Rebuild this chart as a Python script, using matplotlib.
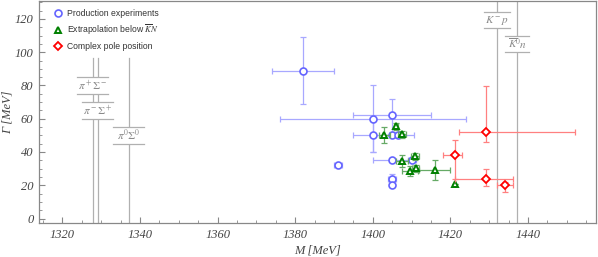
import matplotlib
matplotlib.use("Agg")
import matplotlib.pyplot as plt
from matplotlib.patches import Rectangle
from matplotlib.ticker import MultipleLocator
import numpy as np

plt.rcParams['mathtext.fontset'] = 'stix'

# ---------------- data ----------------
# Production experiments (blue circles)
prod_M = [1382, 1400, 1405, 1400, 1405, 1406.5, 1405, 1410, 1391, 1405, 1405]
prod_G = [89, 60, 62, 50, 50, 50, 35, 35, 32, 24, 20]
prod_xerr = [8, 24, 10, 5, 0, 4, 5, 1, 1, 1, 0]
prod_yerr = [20, 20, 10, 10, 0, 0, 0, 1, 1, 3, 0]

# Extrapolation below KbarN (green triangles)
extr_M = [1403, 1406, 1407.5, 1407.5, 1410.8, 1409.6, 1411.0, 1416.0, 1421.1]
extr_G = [50.2, 55.4, 50.6, 34.6, 37.3, 28.6, 30.2, 29.2, 20.5]
extr_xerr = [1.5, 0.5, 1, 1.5, 1, 2, 1, 4, 0]
extr_yerr = [5, 2, 2, 3.5, 2, 3, 2, 6, 0]

# Complex pole position (red diamonds), asymmetric errors
pole_M = [1429.1, 1421.1, 1429.1, 1434.0]
pole_G = [51.8, 38.0, 23.8, 20.0]
pole_xerr_lo = [7, 3, 8, 2]
pole_xerr_hi = [23, 2, 7, 2]
pole_yerr_lo = [6, 14, 4, 4]
pole_yerr_hi = [28, 9.5, 6, 2]

# thresholds
thr_M = [1327.8, 1329.1, 1337.1, 1432.0, 1437.2]
thr_top = [96.3, 96.3, 96.3, 131, 131]
thr_labels = [r'$\pi^+\Sigma^-$', r'$\pi^-\Sigma^+$', r'$\pi^0\Sigma^0$', r'$K^-p$', r'$\overline{K}^0n$']
thr_label_G = [(75, 85), (60, 70), (45, 55), (114.5, 124), (100.3, 109.8)]
thr_label_halfw = [4.0, 4.0, 4.0, 3.3, 3.1]

legend_labels = ['Production experiments', r'Extrapolation below $\overline{K}N$', 'Complex pole position']

# ---------------- figure ----------------
fig = plt.figure(figsize=(5.98, 2.57), dpi=100)
ax = fig.add_axes([39/598, 34/257, 557/598, 222/257])
ax.set_xlim(1314, 1457.5)
ax.set_ylim(-2.7, 130.8)

grey_line = '#b0b0b0'
label_grey = '#8a8a8a'

for m, top in zip(thr_M, thr_top):
    ax.plot([m, m], [-5, top], color=grey_line, lw=0.9, zorder=1)

for m, lab, (g0, g1), hw in zip(thr_M, thr_labels, thr_label_G, thr_label_halfw):
    ax.add_patch(Rectangle((m - hw, g0), 2*hw, g1 - g0, facecolor='white',
                           edgecolor='none', zorder=2))
    ax.plot([m - hw, m + hw], [g0, g0], color=grey_line, lw=0.9, zorder=3)
    ax.plot([m - hw, m + hw], [g1, g1], color=grey_line, lw=0.9, zorder=3)
    ax.text(m, (g0 + g1) / 2, lab, ha='center', va='center', color=label_grey,
            fontsize=8, zorder=4)

blue = '#6464ff'
green = '#008000'
red = '#ff0000'

ax.errorbar(prod_M, prod_G, xerr=prod_xerr, yerr=prod_yerr, fmt='none',
            ecolor='#a8a8ff', elinewidth=0.9, capsize=2.5, capthick=0.9, zorder=5)
h1, = ax.plot(prod_M, prod_G, 'o', ms=5, mfc='white', mec=blue, mew=1.2,
              ls='none', zorder=6)

ax.errorbar(extr_M, extr_G, xerr=extr_xerr, yerr=extr_yerr, fmt='none',
            ecolor='#66aa66', elinewidth=0.9, capsize=2.5, capthick=0.9, zorder=7)
h2, = ax.plot(extr_M, extr_G, '^', ms=5, mfc='white', mec=green, mew=1.4,
              ls='none', zorder=8)

ax.errorbar(pole_M, pole_G, xerr=[pole_xerr_lo, pole_xerr_hi],
            yerr=[pole_yerr_lo, pole_yerr_hi], fmt='none',
            ecolor='#ff8080', elinewidth=0.9, capsize=2.5, capthick=0.9, zorder=9)
h3, = ax.plot(pole_M, pole_G, 'D', ms=4.5, mfc='white', mec=red, mew=1.3,
              ls='none', zorder=10)

leg = ax.legend([h1, h2, h3], legend_labels, loc='upper left',
                bbox_to_anchor=(0.018, 0.99), frameon=False,
                prop={'family': 'Liberation Sans', 'size': 6.2},
                handlelength=0.8, handletextpad=0.6, labelspacing=0.55,
                borderaxespad=0.3, borderpad=0.4, labelcolor='#333333')

# axes styling
frame_col = '#888888'
for s in ax.spines.values():
    s.set_color(frame_col)
    s.set_linewidth(0.9)

ax.xaxis.set_major_locator(MultipleLocator(20))
ax.xaxis.set_minor_locator(MultipleLocator(5))
ax.yaxis.set_major_locator(MultipleLocator(20))
ax.yaxis.set_minor_locator(MultipleLocator(5))
ax.tick_params(which='both', direction='in', color=frame_col, top=False, right=False)
ax.tick_params(which='major', length=4, width=0.8, pad=4)
ax.tick_params(which='minor', length=2.5, width=0.6)
tick_font = {'family': 'Liberation Serif', 'style': 'italic', 'size': 9}
for lab in ax.get_xticklabels() + ax.get_yticklabels():
    lab.set_fontfamily('Liberation Serif')
    lab.set_fontstyle('italic')
    lab.set_fontsize(9)
    lab.set_color('#444444')

ax.set_xlabel('M [MeV]', fontdict=tick_font, color='#444444', labelpad=3)
ax.set_ylabel('Γ [MeV]', fontdict=tick_font, color='#444444', labelpad=1)

fig.savefig('out.png', dpi=100)
